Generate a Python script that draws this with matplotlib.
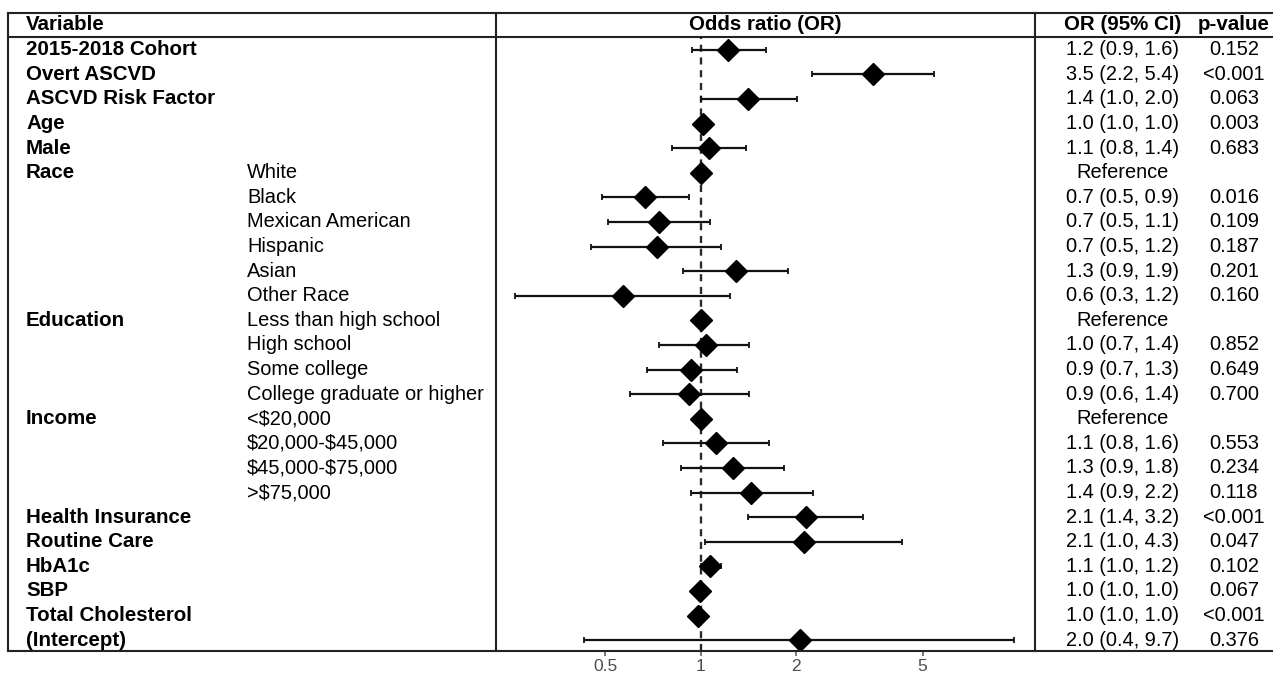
import numpy as np
import matplotlib
matplotlib.use("Agg")
import matplotlib.pyplot as plt
from matplotlib.lines import Line2D
import matplotlib.transforms as mtransforms

plt.rcParams['font.family'] = ['Liberation Sans', 'DejaVu Sans']
plt.rcParams['text.parse_math'] = False

# ---------------- data ----------------
groups = ["2015-2018 Cohort", "Overt ASCVD", "ASCVD Risk Factor", "Age", "Male",
          "Race", "", "", "", "", "",
          "Education", "", "", "",
          "Income", "", "", "",
          "Health Insurance", "Routine Care", "HbA1c", "SBP", "Total Cholesterol", "(Intercept)"]
levels = ["", "", "", "", "",
          "White", "Black", "Mexican American", "Hispanic", "Asian", "Other Race",
          "Less than high school", "High school", "Some college", "College graduate or higher",
          "<$20,000", "$20,000-$45,000", "$45,000-$75,000", ">$75,000",
          "", "", "", "", "", ""]
odds_ratio = [1.22, 3.50, 1.41, 1.02, 1.06,
              1.00, 0.67, 0.74, 0.73, 1.29, 0.57,
              1.00, 1.04, 0.93, 0.92,
              1.00, 1.12, 1.26, 1.44,
              2.14, 2.11, 1.07, 0.995, 0.98, 2.05]
ci_low = [0.94, 2.25, 1.00, 1.01, 0.81,
          np.nan, 0.49, 0.51, 0.45, 0.88, 0.26,
          np.nan, 0.74, 0.68, 0.60,
          np.nan, 0.76, 0.87, 0.93,
          1.41, 1.03, 1.00, 0.99, 0.975, 0.43]
ci_high = [1.61, 5.45, 2.01, 1.04, 1.39,
           np.nan, 0.92, 1.07, 1.16, 1.88, 1.24,
           np.nan, 1.42, 1.30, 1.42,
           np.nan, 1.64, 1.83, 2.26,
           3.24, 4.30, 1.16, 1.00, 0.985, 9.70]
or_text = ["1.2 (0.9, 1.6)", "3.5 (2.2, 5.4)", "1.4 (1.0, 2.0)", "1.0 (1.0, 1.0)", "1.1 (0.8, 1.4)",
           "Reference", "0.7 (0.5, 0.9)", "0.7 (0.5, 1.1)", "0.7 (0.5, 1.2)", "1.3 (0.9, 1.9)", "0.6 (0.3, 1.2)",
           "Reference", "1.0 (0.7, 1.4)", "0.9 (0.7, 1.3)", "0.9 (0.6, 1.4)",
           "Reference", "1.1 (0.8, 1.6)", "1.3 (0.9, 1.8)", "1.4 (0.9, 2.2)",
           "2.1 (1.4, 3.2)", "2.1 (1.0, 4.3)", "1.1 (1.0, 1.2)", "1.0 (1.0, 1.0)", "1.0 (1.0, 1.0)", "2.0 (0.4, 9.7)"]
p_text = ["0.152", "<0.001", "0.063", "0.003", "0.683",
          "", "0.016", "0.109", "0.187", "0.201", "0.160",
          "", "0.852", "0.649", "0.700",
          "", "0.553", "0.234", "0.118",
          "<0.001", "0.047", "0.102", "0.067", "<0.001", "0.376"]
x_ticks = [0.5, 1, 2, 5]
x_tick_labels = ["0.5", "1", "2", "5"]

# ---------------- layout ----------------
W, H = 1273, 673
fig = plt.figure(figsize=(W / 100, H / 100), dpi=100)

def fx(px):
    return px / W

def fy(py):
    return 1 - py / H

x_left, x_mid1, x_mid2, x_right = 8, 496, 1035, 1273
y_top, y_head, y_bot = 13, 37, 651

ax = fig.add_axes([fx(x_mid1), fy(y_bot), fx(x_mid2) - fx(x_mid1), fy(y_head) - fy(y_bot)])
n = len(odds_ratio)
rows = np.arange(n)
row0, step = 49.7, 24.6
ax.set_ylim((y_bot - row0) / step, (y_head - row0) / step)
ax.set_xscale('log')
ax.set_xlim(0.2267, 11.3)

orr = np.array(odds_ratio)
lo = np.array(ci_low)
hi = np.array(ci_high)
ax.axvline(1, color='#2a2a2a', lw=1.7, ls=(0, (3.0, 2.4)), zorder=1)
ax.errorbar(orr, rows, xerr=[orr - lo, hi - orr], fmt='none', ecolor='#111111',
            elinewidth=1.6, capsize=2.2, capthick=1.3, zorder=2)
ax.plot(orr, rows, 'D', color='black', markersize=10.8, zorder=3, linestyle='none')

ax.set_xticks(x_ticks)
ax.set_xticklabels(x_tick_labels)
ax.xaxis.set_minor_locator(matplotlib.ticker.NullLocator())
ax.set_yticks([])
ax.tick_params(axis='x', length=3.5, width=1.1, color='#555555', labelcolor='#4d4d4d',
               labelsize=12.5, pad=2)
for s in ax.spines.values():
    s.set_visible(False)
ax.patch.set_alpha(0)

# table lines
lw = 1.5
for (xa, xb, ya, yb) in [
        (x_left, x_right, y_top, y_top),
        (x_left, x_right, y_head, y_head),
        (x_left, x_right, y_bot, y_bot),
        (x_left, x_left, y_top, y_bot),
        (x_mid1, x_mid1, y_top, y_bot),
        (x_mid2, x_mid2, y_top, y_bot)]:
    fig.add_artist(Line2D([fx(xa), fx(xb)], [fy(ya), fy(yb)], color='#222222', lw=lw))

# headers
fs = 14.4
fsb = 14.8
hy = fy(25)
fig.text(fx(26), hy, "Variable", fontsize=fsb, fontweight='bold', va='center', ha='left')
fig.text(fx(765), hy, "Odds ratio (OR)", fontsize=fsb, fontweight='bold', va='center', ha='center')
fig.text(fx(1123), hy, "OR (95% CI)", fontsize=fsb, fontweight='bold', va='center', ha='center')
fig.text(fx(1234), hy, "p-value", fontsize=fsb, fontweight='bold', va='center', ha='center')

tr = mtransforms.blended_transform_factory(fig.transFigure, ax.transData)
for i in range(n):
    if groups[i]:
        fig.text(fx(26), i, groups[i], transform=tr, fontsize=fsb, fontweight='bold',
                 va='center', ha='left')
    if levels[i]:
        fig.text(fx(247), i, levels[i], transform=tr, fontsize=fs, va='center', ha='left')
    fig.text(fx(1123), i, or_text[i], transform=tr, fontsize=fs, va='center', ha='center')
    if p_text[i]:
        fig.text(fx(1234), i, p_text[i], transform=tr, fontsize=fs, va='center', ha='center')

fig.savefig("out.png", dpi=100)
